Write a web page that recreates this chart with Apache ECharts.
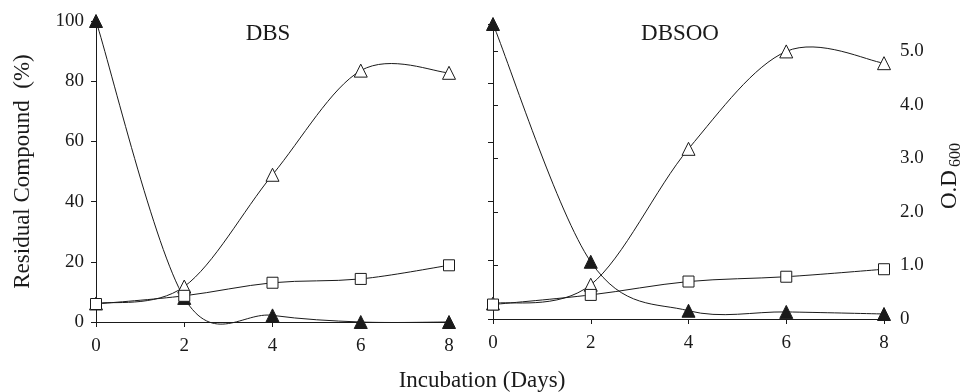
<!DOCTYPE html>
<html>
<head>
<meta charset="utf-8">
<script src="https://cdn.jsdelivr.net/npm/echarts@6/dist/echarts.min.js"></script>
<style>
  html, body { margin: 0; padding: 0; background: #fff; }
  #chart { width: 967px; height: 392px; }
</style>
</head>
<body>
<div id="chart"></div>
<script>
// incubation days
const days = [0, 2, 4, 6, 8]
const yTicks = [0, 20, 40, 60, 80, 100]
const odTicks = [0, 1, 2, 3, 4, 5]

// DBS panel: residual compound (%) and O.D 600
const dbsResidual = [100, 8, 2.2, 0, 0]
const dbsOpenTri = [0.34, 0.65, 2.70, 4.61, 4.57]
const dbsSquare = [0.33, 0.48, 0.72, 0.79, 1.04]

// DBSOO panel
const dbsooResidual = [100, 19.4, 2.8, 2.4, 1.7]
const dbsooOpenTri = [0.29, 0.64, 3.18, 5.0, 4.78]
const dbsooSquare = [0.27, 0.45, 0.70, 0.79, 0.93]

const FONT = 'Liberation Serif'
const INK = '#1a1a1a'

const pairs = (ys) => days.map((d, i) => [d, ys[i]])

function xAxisFor(gridIndex, show) {
  return {
    gridIndex: gridIndex,
    type: 'value',
    min: 0,
    max: 8,
    show: show,
    splitLine: { show: false },
    axisLine: { lineStyle: { color: INK, width: 1 } },
    axisTick: { length: 5, lineStyle: { color: INK }, customValues: days },
    axisLabel: { color: INK, fontFamily: FONT, fontSize: 19, margin: 15, customValues: days }
  }
}

// smooth curve like a spreadsheet "smoothed line" (catmull-rom, may overshoot)
function curveSeries(xi, yi, ys) {
  const n = days.length
  return {
    type: 'custom',
    xAxisIndex: xi,
    yAxisIndex: yi,
    data: pairs(ys),
    clip: false,
    z: 2,
    silent: true,
    renderItem: (params, api) => {
      const i = params.dataIndex
      if (i >= n - 1) return null
      const pt = (k) => {
        const j = Math.max(0, Math.min(n - 1, k))
        return api.coord([days[j], ys[j]])
      }
      const p0 = pt(i - 1), p1 = pt(i), p2 = pt(i + 1), p3 = pt(i + 2)
      return {
        type: 'bezierCurve',
        shape: {
          x1: p1[0], y1: p1[1],
          cpx1: p1[0] + (p2[0] - p0[0]) / 6, cpy1: p1[1] + (p2[1] - p0[1]) / 6,
          cpx2: p2[0] - (p3[0] - p1[0]) / 6, cpy2: p2[1] - (p3[1] - p1[1]) / 6,
          x2: p2[0], y2: p2[1]
        },
        style: { stroke: INK, fill: null, lineWidth: 1 }
      }
    }
  }
}

function markerSeries(xi, yi, ys, symbol, size, filled) {
  return {
    type: 'scatter',
    xAxisIndex: xi,
    yAxisIndex: yi,
    data: pairs(ys),
    symbol: symbol,
    symbolSize: size,
    itemStyle: {
      color: filled ? INK : '#fff',
      borderColor: INK,
      borderWidth: 1,
      opacity: 1
    },
    z: filled ? 3 : 4
  }
}

const chart = echarts.init(document.getElementById('chart'))
chart.setOption({
  backgroundColor: '#fff',
  animation: false,
  grid: [
    { left: 96, right: 518, top: 21, bottom: 70 },   // DBS
    { left: 493, right: 83, top: 24, bottom: 73 },   // DBSOO, % axis
    { left: 493, right: 83, top: 33, bottom: 73 }    // DBSOO, O.D axis
  ],
  xAxis: [xAxisFor(0, true), xAxisFor(1, true), xAxisFor(2, false)],
  yAxis: [
    {
      gridIndex: 0, type: 'value', min: 0, max: 100,
      name: 'Residual Compound  (%)', nameLocation: 'middle', nameGap: 62,
      nameTextStyle: { color: INK, fontFamily: FONT, fontSize: 23 },
      splitLine: { show: false },
      axisLine: { show: true, lineStyle: { color: INK } },
      axisTick: { show: true, length: 5, lineStyle: { color: INK }, customValues: yTicks },
      axisLabel: { color: INK, fontFamily: FONT, fontSize: 19, margin: 12, customValues: yTicks }
    },
    {
      // hidden O.D scale of the DBS panel
      gridIndex: 0, type: 'value', min: 0, max: 5.52, position: 'right', show: false,
      splitLine: { show: false }
    },
    {
      gridIndex: 1, type: 'value', min: 0, max: 100,
      splitLine: { show: false },
      axisLine: { show: true, lineStyle: { color: INK } },
      axisTick: { show: true, length: 5, lineStyle: { color: INK }, customValues: yTicks },
      axisLabel: { show: false }
    },
    {
      gridIndex: 2, type: 'value', min: 0, max: 5.344, position: 'right',
      name: '{a|O.D}{b|600}', nameLocation: 'middle', nameGap: 52,
      nameTextStyle: {
        color: INK, fontFamily: FONT,
        rich: {
          a: { fontFamily: FONT, fontSize: 23, color: INK },
          b: { fontFamily: FONT, fontSize: 16, color: INK, padding: [12, 0, 0, 3] }
        }
      },
      splitLine: { show: false },
      axisLine: { show: true, lineStyle: { color: INK } },
      axisTick: { show: true, length: 5, lineStyle: { color: INK }, customValues: odTicks },
      axisLabel: {
        color: INK, fontFamily: FONT, fontSize: 19, margin: 16, customValues: odTicks,
        formatter: (v) => (v === 0 ? '0' : v.toFixed(1))
      }
    }
  ],
  graphic: [
    { type: 'text', x: 268, y: 34, style: { text: 'DBS', font: '23px "Liberation Serif"', fill: INK, align: 'center', verticalAlign: 'middle' } },
    { type: 'text', x: 680, y: 34, style: { text: 'DBSOO', font: '23px "Liberation Serif"', fill: INK, align: 'center', verticalAlign: 'middle' } },
    { type: 'text', x: 482, y: 381, style: { text: 'Incubation (Days)', font: '23px "Liberation Serif"', fill: INK, align: 'center', verticalAlign: 'middle' } }
  ],
  series: [
    curveSeries(0, 0, dbsResidual),
    curveSeries(0, 1, dbsOpenTri),
    curveSeries(0, 1, dbsSquare),
    curveSeries(1, 2, dbsooResidual),
    curveSeries(2, 3, dbsooOpenTri),
    curveSeries(2, 3, dbsooSquare),
    markerSeries(0, 0, dbsResidual, 'triangle', 13, true),
    markerSeries(0, 1, dbsOpenTri, 'triangle', 13, false),
    markerSeries(0, 1, dbsSquare, 'rect', 11, false),
    markerSeries(1, 2, dbsooResidual, 'triangle', 13, true),
    markerSeries(2, 3, dbsooOpenTri, 'triangle', 13, false),
    markerSeries(2, 3, dbsooSquare, 'rect', 11, false)
  ]
})
</script>
</body>
</html>
